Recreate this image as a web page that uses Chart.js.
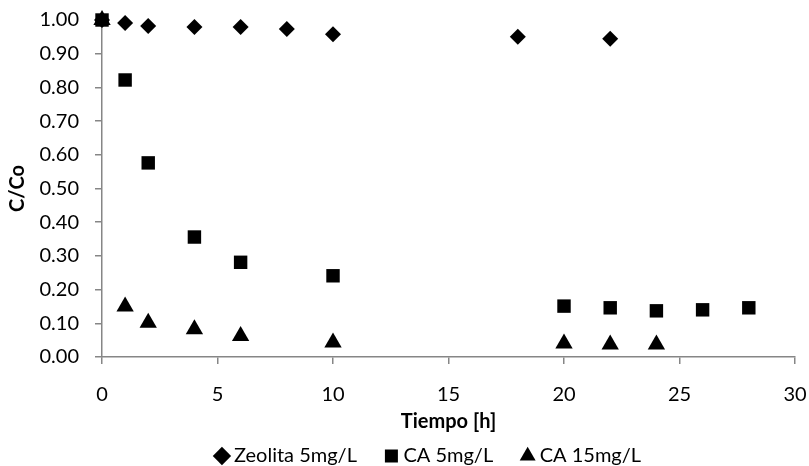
<!DOCTYPE html>
<html>
<head>
<meta charset="utf-8">
<script src="https://cdn.jsdelivr.net/npm/chart.js@4.4.1/dist/chart.umd.min.js"></script>
<style>
  html, body { margin: 0; padding: 0; background: #fff; }
  #wrap { width: 809px; height: 466px; }
</style>
</head>
<body>
<div id="wrap"><canvas id="chart" width="809" height="466"></canvas></div>
<script>
// data
const zeoTime = [0, 1, 2, 4, 6, 8, 10, 18, 22];
const zeoValues = [1.0, 0.991, 0.982, 0.979, 0.979, 0.973, 0.958, 0.95, 0.944];

const ca5Time = [0, 1, 2, 4, 6, 10, 20, 22, 24, 26, 28];
const ca5Values = [1.0, 0.822, 0.576, 0.356, 0.281, 0.241, 0.151, 0.146, 0.137, 0.14, 0.146];

const ca15Time = [0, 1, 2, 4, 6, 10, 20, 22, 24];
const ca15Values = [1.0, 0.15, 0.102, 0.082, 0.062, 0.043, 0.04, 0.037, 0.037];

const seriesNames = ["Zeolita 5mg/L", "CA 5mg/L", "CA 15mg/L"];

const axisColor = "#868686";
const fontFamily = "Lato, 'Open Sans', sans-serif";

function toPoints(xs, ys) {
  return xs.map((x, i) => ({ x: x, y: ys[i] }));
}

// legend sits a bit right of the canvas centre in the original
const legendShift = {
  id: "legendShift",
  afterLayout(chart) {
    if (chart.legend) {
      chart.legend.left += 31;
      chart.legend.right += 31;
    }
  }
};

const ctx = document.getElementById("chart").getContext("2d");

new Chart(ctx, {
  type: "scatter",
  data: {
    datasets: [
      {
        label: seriesNames[0],
        data: toPoints(zeoTime, zeoValues),
        pointStyle: "rectRot",
        pointRadius: 8,
        backgroundColor: "#000",
        borderWidth: 0,
        clip: false
      },
      {
        label: seriesNames[1],
        data: toPoints(ca5Time, ca5Values),
        pointStyle: "rect",
        pointRadius: 9.5,
        backgroundColor: "#000",
        borderWidth: 0,
        clip: false
      },
      {
        label: seriesNames[2],
        data: toPoints(ca15Time, ca15Values),
        pointStyle: "triangle",
        pointRadius: 10,
        backgroundColor: "#000",
        borderWidth: 0,
        clip: false
      }
    ]
  },
  plugins: [legendShift],
  options: {
    responsive: false,
    animation: false,
    layout: { padding: { left: 4, right: 14, top: 20, bottom: -10 } },
    plugins: {
      tooltip: { enabled: false },
      legend: {
        position: "bottom",
        labels: {
          usePointStyle: true,
          boxWidth: 4,
          boxHeight: 13,
          padding: 12,
          color: "#000",
          font: { family: fontFamily, size: 20 },
          generateLabels: (chart) => {
            const items = Chart.defaults.plugins.legend.labels.generateLabels(chart);
            // wider gap between the entries
            items.forEach((it, i) => {
              if (i < items.length - 1) it.text = it.text + "    ";
            });
            return items;
          }
        }
      }
    },
    scales: {
      x: {
        type: "linear",
        min: 0,
        max: 30,
        afterFit: (scale) => {
          scale.paddingRight = 0;
        },
        border: { color: axisColor, width: 1.5 },
        grid: { drawOnChartArea: false, tickLength: 7, color: axisColor, lineWidth: 1.5 },
        ticks: { stepSize: 5, color: "#000", padding: 19, font: { family: fontFamily, size: 20 } },
        title: {
          display: true,
          text: "Tiempo [h]",
          color: "#000",
          padding: { top: -16, bottom: 0 },
          font: { family: fontFamily, size: 20, weight: "bold" }
        }
      },
      y: {
        min: 0,
        max: 1,
        afterFit: (scale) => {
          scale.paddingTop = 0;
        },
        border: { color: axisColor, width: 1.5 },
        grid: { drawOnChartArea: false, tickLength: 7, color: axisColor, lineWidth: 1.5 },
        ticks: {
          stepSize: 0.1,
          color: "#000",
          padding: 16,
          font: { family: fontFamily, size: 20 },
          callback: (v) => Number(v).toFixed(2)
        },
        title: {
          display: true,
          text: "C/Co",
          color: "#000",
          padding: { top: 2, bottom: -6.5 },
          font: { family: fontFamily, size: 20, weight: "bold" }
        }
      }
    }
  }
});
</script>
</body>
</html>
